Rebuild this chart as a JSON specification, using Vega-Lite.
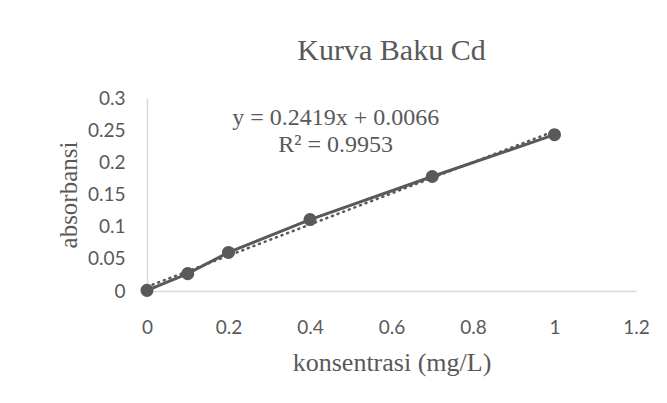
{
  "$schema": "https://vega.github.io/schema/vega-lite/v6.json",
  "width": 489,
  "height": 193,
  "autosize": {"type": "none"},
  "padding": {"left": 147, "top": 98, "right": 31, "bottom": 112},
  "background": "white",
  "config": {
    "view": {"stroke": null},
    "axis": {
      "grid": false,
      "ticks": false,
      "domainColor": "#D9D9D9",
      "domainWidth": 1.5,
      "labelFont": "Lato",
      "labelFontSize": 19,
      "labelColor": "#595959",
      "titleFont": "Liberation Serif",
      "titleFontSize": 25,
      "titleFontWeight": "normal",
      "titleColor": "#595959"
    }
  },
  "title": {
    "text": "Kurva Baku Cd",
    "font": "Liberation Serif",
    "fontSize": 30,
    "fontWeight": "normal",
    "color": "#595959",
    "offset": 23
  },
  "datasets": {
    "obs": [
      {"konsentrasi": 0, "absorbansi": 0.001},
      {"konsentrasi": 0.1, "absorbansi": 0.027},
      {"konsentrasi": 0.2, "absorbansi": 0.06},
      {"konsentrasi": 0.4, "absorbansi": 0.111},
      {"konsentrasi": 0.7, "absorbansi": 0.178},
      {"konsentrasi": 1, "absorbansi": 0.243}
    ],
    "trend": [
      {"konsentrasi": 0, "absorbansi": 0.0066},
      {"konsentrasi": 1, "absorbansi": 0.2485}
    ],
    "notes": [
      {"konsentrasi": 0.463, "absorbansi": 0.269, "label": "y = 0.2419x + 0.0066"},
      {"konsentrasi": 0.463, "absorbansi": 0.227, "label": "R² = 0.9953"}
    ]
  },
  "encoding": {
    "x": {
      "field": "konsentrasi",
      "type": "quantitative",
      "scale": {"domain": [0, 1.2], "nice": false, "zero": false},
      "axis": {"values": [0, 0.2, 0.4, 0.6, 0.8, 1, 1.2], "format": "~g", "labelPadding": 27, "title": "konsentrasi (mg/L)", "titleFontSize": 26, "titlePadding": 12, "labelFlush": false}
    },
    "y": {
      "field": "absorbansi",
      "type": "quantitative",
      "scale": {"domain": [0, 0.3], "nice": false},
      "axis": {"values": [0, 0.05, 0.1, 0.15, 0.2, 0.25, 0.3], "format": "~g", "labelPadding": 22, "title": "absorbansi", "titlePadding": 6, "labelFlush": false}
    }
  },
  "layer": [
    {
      "data": {"name": "trend"},
      "mark": {"type": "line", "color": "#595959", "strokeWidth": 2.5, "strokeDash": [1, 5], "strokeCap": "round"}
    },
    {
      "data": {"name": "obs"},
      "mark": {"type": "line", "color": "#595959", "strokeWidth": 3}
    },
    {
      "data": {"name": "obs"},
      "mark": {"type": "point", "filled": true, "color": "#595959", "opacity": 1, "size": 170}
    },
    {
      "data": {"name": "notes"},
      "mark": {"type": "text", "font": "Liberation Serif", "fontSize": 24, "color": "#595959", "align": "center", "baseline": "middle"},
      "encoding": {"text": {"field": "label"}}
    }
  ]
}
